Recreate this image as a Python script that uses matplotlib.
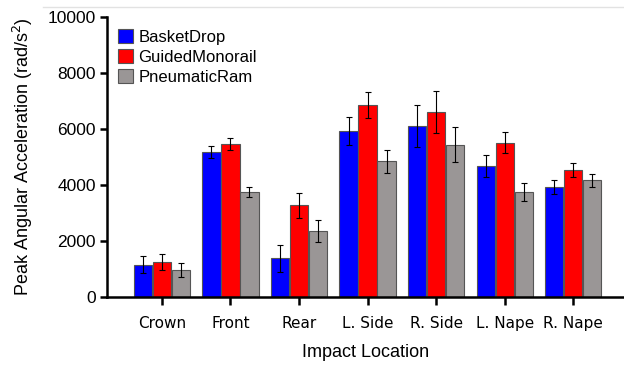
import numpy as np
import matplotlib.pyplot as plt
from matplotlib.lines import Line2D

# Data
locations = ["Crown", "Front", "Rear", "L. Side", "R. Side", "L. Nape", "R. Nape"]
basket = [1150, 5180, 1370, 5920, 6110, 4680, 3940]
basket_err = [300, 220, 490, 500, 760, 400, 250]
monorail = [1240, 5460, 3275, 6850, 6610, 5510, 4525]
monorail_err = [280, 230, 450, 470, 740, 380, 250]
ram = [950, 3750, 2350, 4850, 5440, 3730, 4160]
ram_err = [240, 190, 390, 410, 620, 320, 220]

plt.rcParams["font.family"] = ["Liberation Sans", "DejaVu Sans"]

fig = plt.figure(figsize=(6.24, 3.65), dpi=100)
ax = fig.add_axes([0.1715, 0.187, 0.8285, 0.7664])

x = np.arange(len(locations))
w = 0.277
err_kw = dict(ecolor="black", elinewidth=0.8, capsize=2.2, capthick=0.8)
series = [
    ("BasketDrop", basket, basket_err, "#0000ff", -w),
    ("GuidedMonorail", monorail, monorail_err, "#ff0000", 0),
    ("PneumaticRam", ram, ram_err, "#9a9696", w),
]
for name, vals, errs, color, off in series:
    ax.bar(x + off, vals, w * 0.96, yerr=errs, color=color, edgecolor="#555555",
           linewidth=0.8, label=name, error_kw=err_kw)

ax.set_xlim(-0.8, 6.74)
ax.set_ylim(0, 10000)
ax.set_yticks([0, 2000, 4000, 6000, 8000, 10000])
ax.set_xticks(x)
ax.set_xticklabels(locations, fontfamily="DejaVu Sans", fontsize=11)
ax.tick_params(axis="y", labelsize=12.5, width=1.8, length=5, pad=3)
ax.tick_params(axis="x", width=1.8, length=6, pad=8)
for s in ["top", "right"]:
    ax.spines[s].set_visible(False)
for s in ["left", "bottom"]:
    ax.spines[s].set_linewidth(1.8)

ax.set_ylabel("Peak Angular Acceleration (rad/s$^2$)", fontsize=13, labelpad=9)
ax.set_xlabel("Impact Location", fontsize=13, labelpad=9)

ax.legend(loc="upper left", bbox_to_anchor=(-0.002, 1.0), frameon=False, fontsize=12,
          handlelength=0.95, handleheight=0.95, handletextpad=0.3,
          labelspacing=0.25, borderaxespad=0.3)

# faint screenshot border line at top
fig.add_artist(Line2D([43 / 624, 1], [1 - 7 / 365, 1 - 7 / 365], color="#e2e2e2", lw=1))

fig.savefig("out.png", dpi=100)
